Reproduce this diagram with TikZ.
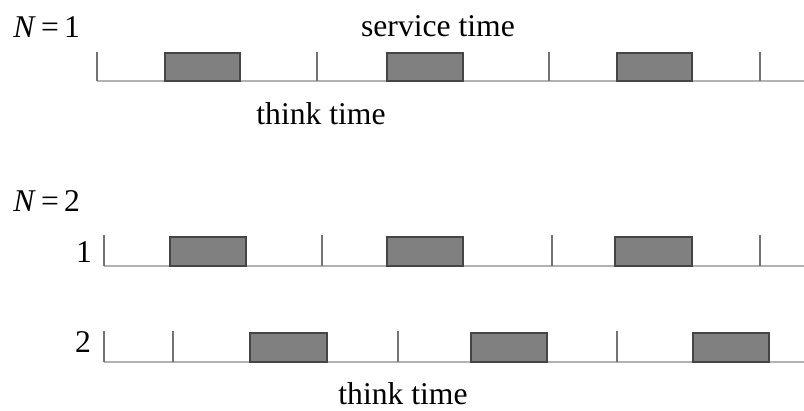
\documentclass[tikz,border=0pt]{standalone}
\usepackage{fontspec}
\setmainfont{Liberation Serif}
\usetikzlibrary{positioning}
\definecolor{job}{gray}{0.50}
\definecolor{jobedge}{gray}{0.27}
\definecolor{axisline}{gray}{0.70}
\definecolor{tickline}{gray}{0.45}

\begin{document}
\begin{tikzpicture}[
  x=0.025cm, y=-0.025cm,
  font=\fontsize{22.5}{27}\selectfont,
  busy/.style={draw=jobedge, fill=job, line width=.9pt},
  axis/.style={draw=axisline, line width=1.4pt},
  tickmark/.style={draw=tickline, line width=1pt},
  lbl/.style={inner sep=0pt, anchor=base},
]
\useasboundingbox (0,0) rectangle (804,411);

% N = 1, a single customer
\node[lbl, anchor=base west] (n1) at (13,38) {\textit{N}\,=\,1};
\node[lbl] (svc) at (438,37) {service time};
\draw[axis] (97,81) -- (804,81);
\foreach \t in {97,317,549,760}
  \draw[tickmark] (\t,81) -- (\t,52);
\foreach \a/\b in {165/240,387/463,617/692}
  \draw[busy] (\a,53) rectangle (\b,81);
\node[lbl] (think1) at (321,125) {think time};

% N = 2, two customers sharing the server
\node[lbl, anchor=base west] (n2) at (13,212) {\textit{N}\,=\,2};

% customer 1
\node[lbl] (c1) at (84,263) {1};
\draw[axis] (104,266) -- (804,266);
\foreach \t in {104,322,552,760}
  \draw[tickmark] (\t,266) -- (\t,235);
\foreach \a/\b in {170/246,387/463,615/692}
  \draw[busy] (\a,237) rectangle (\b,266);

% customer 2
\node[lbl] (c2) at (83,353) {2};
\draw[axis] (104,362) -- (804,362);
\foreach \t in {104,173,398,617}
  \draw[tickmark] (\t,362) -- (\t,331);
\foreach \a/\b in {250/327,471/547,693/769}
  \draw[busy] (\a,333) rectangle (\b,362);
\node[lbl] (think2) at (403,405) {think time};
\end{tikzpicture}
\end{document}
